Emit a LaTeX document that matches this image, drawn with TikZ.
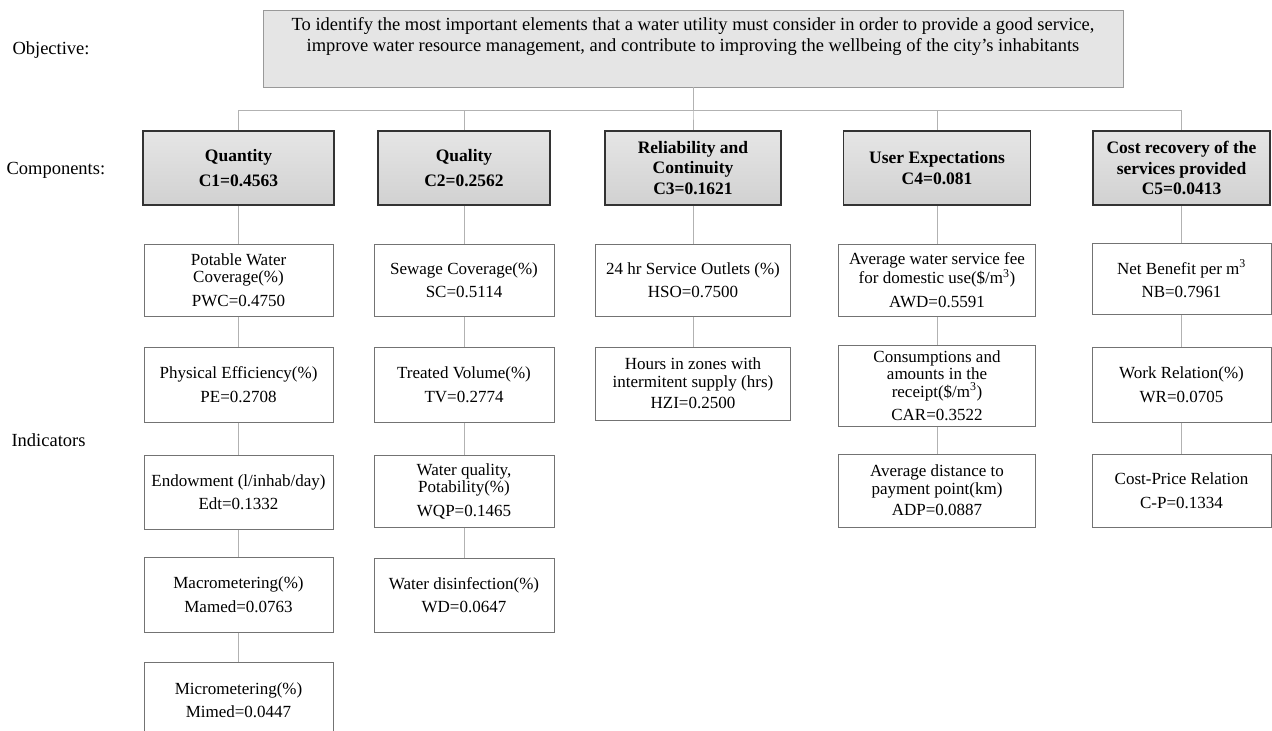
\documentclass[tikz,border=0pt]{standalone}
\usepackage{fontspec}
\setmainfont{Liberation Serif}
\usepackage{tikz}
\usetikzlibrary{positioning}
\definecolor{MyGoal}{rgb}{0.9,0.9,0.9}
\definecolor{MyEdge}{rgb}{0.6,0.6,0.6}
\definecolor{MyLink}{rgb}{0.7,0.7,0.7}
\definecolor{MyBox}{rgb}{0.45,0.45,0.45}
\tikzset{
    goal/.style={
      rectangle,
      fill=MyGoal,
      draw=MyEdge,
      line width=0.9pt,
      minimum width=860pt,
      minimum height=77pt
    },
    goaltext/.style={
      anchor=north,
      yshift=-4pt,
      align=center,
      font=\fontsize{18.5}{21.5}\selectfont
    },
    component/.style={
      rectangle,
      top color=black!10,
      bottom color=black!18,
      draw=black!80,
      line width=1.6pt,
      minimum height=74pt,
      align=center,
      font=\bfseries\fontsize{17.5}{20.5}\selectfont
    },
    indicator/.style={
      rectangle,
      fill=white,
      draw=MyBox,
      line width=1pt,
      inner ysep=2pt,
      align=center,
      font=\fontsize{17}{17.5}\selectfont
    },
    tag/.style={anchor=west, font=\fontsize{18.5}{20}\selectfont},
    link/.style={draw=MyLink, line width=0.9pt},
}

\begin{document}
\begin{tikzpicture}[x=1pt,y=-1pt]
    \useasboundingbox (0,0) rectangle (1272,731);
    \clip (0,0) rectangle (1272,731);

    \draw (9,50) node[tag] (LObj) {Objective:};
    \draw (3,170) node[tag] (LComp) {Components:};
    \draw (8,440) node[tag] (LInd) {Indicators};

    \draw (693,48.5) node[goal,label={[goaltext]north:{To identify the most important elements that a water utility must consider in order to provide a good service,\\improve water resource management, and contribute to improving the wellbeing of the city's inhabitants}}] (Obj) {};

    \draw (238.5,168) node[component,minimum width=191pt] (C1) {Quantity\\[4pt]C1=0.4563};
    \draw (464,168) node[component,minimum width=172pt] (C2) {Quality\\[4pt]C2=0.2562};
    \draw (693,168) node[component,minimum width=176pt] (C3) {Reliability and\\Continuity\\C3=0.1621};
    \draw (937,168) node[component,minimum width=187pt] (C4) {User Expectations\\C4=0.081};
    \draw (1181.5,168) node[component,minimum width=177pt] (C5) {Cost recovery of the\\services provided\\C5=0.0413};

    \coordinate (Bus) at (693,110);
    \draw[link] (Obj.south) -- (Obj.south |- Bus) -| (C1.north);
    \draw[link] (Obj.south) -- (Obj.south |- Bus) -| (C2.north);
    \draw[link] (Obj.south) -- (Obj.south |- Bus) -| (C3.north);
    \draw[link] (Obj.south) -- (Obj.south |- Bus) -| (C4.north);
    \draw[link] (Obj.south) -- (Obj.south |- Bus) -| (C5.north);

    % quantity
    \draw (238.5,280) node[indicator,minimum width=189pt,minimum height=72pt] (PWC) {Potable Water\\Coverage(\%)\\[6pt]PWC=0.4750};
    \draw (238.5,384.5) node[indicator,minimum width=189pt,minimum height=75pt] (PE) {Physical Efficiency(\%)\\[6pt]PE=0.2708};
    \draw (238.5,492) node[indicator,minimum width=189pt,minimum height=74pt] (Edt) {Endowment (l/inhab/day)\\[6pt]Edt=0.1332};
    \draw (238.5,594.5) node[indicator,minimum width=189pt,minimum height=75pt] (Mamed) {Macrometering(\%)\\[6pt]Mamed=0.0763};
    \draw (238.5,700) node[indicator,minimum width=189pt,minimum height=76pt] (Mimed) {Micrometering(\%)\\[6pt]Mimed=0.0447};

    % quality
    \draw (464,280) node[indicator,minimum width=180pt,minimum height=72pt] (SC) {Sewage Coverage(\%)\\[6pt]SC=0.5114};
    \draw (464,384.5) node[indicator,minimum width=180pt,minimum height=75pt] (TV) {Treated Volume(\%)\\[6pt]TV=0.2774};
    \draw (464,491) node[indicator,minimum width=180pt,minimum height=72pt] (WQP) {Water quality,\\Potability(\%)\\[6pt]WQP=0.1465};
    \draw (464,595) node[indicator,minimum width=180pt,minimum height=74pt] (WD) {Water disinfection(\%)\\[6pt]WD=0.0647};

    % reliability
    \draw (693,280) node[indicator,minimum width=195pt,minimum height=72pt] (HSO) {24 hr Service Outlets (\%)\\[6pt]HSO=0.7500};
    \draw (693,383.5) node[indicator,minimum width=195pt,minimum height=73pt] (HZI) {Hours in zones with\\intermitent supply (hrs)\\[4pt]HZI=0.2500};

    % user expectations
    \draw (937,280) node[indicator,minimum width=197pt,minimum height=72pt] (AWD) {Average water service fee\\for domestic use(\$/m\textsuperscript{3})\\[6pt]AWD=0.5591};
    \draw (937,385.5) node[indicator,minimum width=197pt,minimum height=81pt] (CAR) {Consumptions and\\amounts in the\\receipt(\$/m\textsuperscript{3})\\[6pt]CAR=0.3522};
    \draw (937,490.5) node[indicator,minimum width=197pt,minimum height=73pt] (ADP) {Average distance to\\payment point(km)\\[4pt]ADP=0.0887};

    % cost recovery
    \draw (1181.5,279) node[indicator,minimum width=179pt,minimum height=71pt] (NB) {Net Benefit per m\textsuperscript{3}\\[6pt]NB=0.7961};
    \draw (1181.5,384.5) node[indicator,minimum width=179pt,minimum height=75pt] (WR) {Work Relation(\%)\\[6pt]WR=0.0705};
    \draw (1181.5,490.5) node[indicator,minimum width=179pt,minimum height=73pt] (CP) {Cost-Price Relation\\[6pt]C-P=0.1334};

    \path (C1) edge[link] (PWC);
    \path (PWC) edge[link] (PE);
    \path (PE) edge[link] (Edt);
    \path (Edt) edge[link] (Mamed);
    \path (Mamed) edge[link] (Mimed);

    \path (C2) edge[link] (SC);
    \path (SC) edge[link] (TV);
    \path (TV) edge[link] (WQP);
    \path (WQP) edge[link] (WD);

    \path (C3) edge[link] (HSO);
    \path (HSO) edge[link] (HZI);

    \path (C4) edge[link] (AWD);
    \path (AWD) edge[link] (CAR);
    \path (CAR) edge[link] (ADP);

    \path (C5) edge[link] (NB);
    \path (NB) edge[link] (WR);
    \path (WR) edge[link] (CP);
\end{tikzpicture}
\end{document}
